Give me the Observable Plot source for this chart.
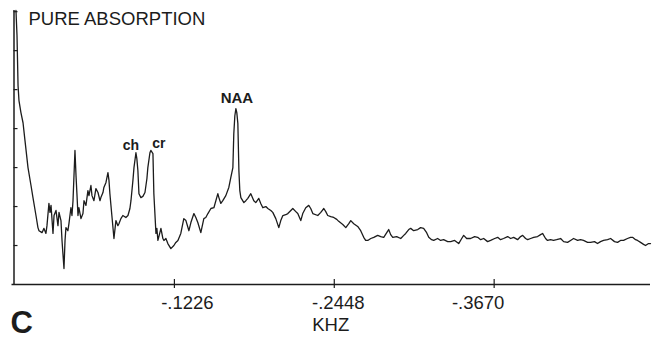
<!DOCTYPE html>
<html>
<head>
<meta charset="utf-8">
<script src="https://cdn.jsdelivr.net/npm/d3@7"></script>
<script src="https://cdn.jsdelivr.net/npm/@observablehq/plot@0.6"></script>
<style>
  html, body { margin: 0; padding: 0; background: #fff; }
  #chart { width: 662px; height: 339px; }
</style>
</head>
<body>
<div id="chart"></div>
<script>
// Spectrum: frequency (kHz) and amplitude (arbitrary units, one unit per y-axis tick)
const freqKHz = [
  -0.0015,-0.0023,-0.0027,-0.0031,-0.0038,-0.0053,-0.0069,-0.0084,-0.0107,-0.0130,
  -0.0145,-0.0168,-0.0183,-0.0191,-0.0214,-0.0229,-0.0244,-0.0252,-0.0267,-0.0275,
  -0.0283,-0.0298,-0.0306,-0.0321,-0.0336,-0.0344,-0.0359,-0.0367,-0.0374,-0.0382,
  -0.0390,-0.0397,-0.0412,-0.0420,-0.0435,-0.0443,-0.0451,-0.0466,-0.0474,-0.0481,
  -0.0489,-0.0496,-0.0512,-0.0527,-0.0535,-0.0550,-0.0565,-0.0573,-0.0588,-0.0596,
  -0.0611,-0.0626,-0.0642,-0.0657,-0.0664,-0.0680,-0.0687,-0.0703,-0.0718,-0.0726,
  -0.0733,-0.0748,-0.0764,-0.0779,-0.0794,-0.0802,-0.0817,-0.0832,-0.0855,-0.0871,
  -0.0886,-0.0894,-0.0909,-0.0917,-0.0932,-0.0939,-0.0947,-0.0955,-0.0970,-0.0985,
  -0.1001,-0.1016,-0.1023,-0.1039,-0.1046,-0.1062,-0.1069,-0.1085,-0.1092,-0.1100,
  -0.1115,-0.1123,-0.1138,-0.1146,-0.1161,-0.1176,-0.1199,-0.1222,-0.1237,-0.1253,
  -0.1275,-0.1298,-0.1314,-0.1337,-0.1352,-0.1375,-0.1390,-0.1405,-0.1428,-0.1451,
  -0.1466,-0.1482,-0.1505,-0.1528,-0.1558,-0.1566,-0.1581,-0.1596,-0.1619,-0.1642,
  -0.1657,-0.1673,-0.1680,-0.1688,-0.1696,-0.1703,-0.1711,-0.1719,-0.1726,-0.1734,
  -0.1757,-0.1772,-0.1787,-0.1810,-0.1833,-0.1848,-0.1871,-0.1886,-0.1902,-0.1925,
  -0.1940,-0.1963,-0.1978,-0.2001,-0.2024,-0.2039,-0.2055,-0.2077,-0.2093,-0.2116,
  -0.2131,-0.2154,-0.2169,-0.2192,-0.2207,-0.2230,-0.2253,-0.2268,-0.2284,-0.2322,
  -0.2345,-0.2368,-0.2383,-0.2398,-0.2421,-0.2444,-0.2467,-0.2482,-0.2513,-0.2536,
  -0.2559,-0.2574,-0.2597,-0.2627,-0.2650,-0.2673,-0.2688,-0.2704,-0.2727,-0.2750,
  -0.2780,-0.2803,-0.2826,-0.2849,-0.2864,-0.2879,-0.2895,-0.2925,-0.2956,-0.2979,
  -0.2994,-0.3017,-0.3032,-0.3055,-0.3086,-0.3108,-0.3131,-0.3154,-0.3170,-0.3192,
  -0.3208,-0.3238,-0.3261,-0.3284,-0.3315,-0.3338,-0.3368,-0.3399,-0.3422,-0.3437,
  -0.3460,-0.3490,-0.3521,-0.3544,-0.3567,-0.3590,-0.3620,-0.3643,-0.3674,-0.3697,
  -0.3719,-0.3742,-0.3773,-0.3796,-0.3819,-0.3849,-0.3872,-0.3888,-0.3910,-0.3926,
  -0.3949,-0.3972,-0.4002,-0.4025,-0.4040,-0.4063,-0.4078,-0.4101,-0.4124,-0.4147,
  -0.4178,-0.4201,-0.4231,-0.4254,-0.4277,-0.4308,-0.4330,-0.4353,-0.4384,-0.4407,
  -0.4437,-0.4460,-0.4483,-0.4506,-0.4537,-0.4560,-0.4590,-0.4613,-0.4636,-0.4659,
  -0.4689,-0.4712,-0.4728,-0.4751,-0.4766,-0.4789,-0.4812,-0.4827,-0.4850,-0.4865
];
const amplitude = [
  7.03,6.38,5.74,5.10,4.72,4.41,4.15,3.69,3.00,2.54,
  2.23,1.77,1.46,1.38,1.33,1.44,1.31,1.51,2.08,1.85,
  2.03,1.31,1.77,1.90,1.51,1.85,1.64,1.13,0.79,0.41,
  1.13,1.46,1.38,1.56,1.97,1.77,2.15,3.44,2.79,2.33,
  1.77,1.97,1.69,1.82,2.15,2.03,2.41,2.28,2.54,2.28,
  2.15,2.46,2.36,2.15,2.23,2.36,2.49,2.62,2.87,2.67,
  2.33,1.77,1.18,1.64,1.51,1.56,1.69,1.77,1.72,1.77,
  1.95,2.15,2.67,3.00,3.38,3.23,2.92,2.33,2.23,2.26,
  2.36,2.72,3.00,3.38,3.44,3.36,2.33,1.31,1.44,1.13,
  1.33,1.44,1.18,1.13,1.18,1.05,0.92,1.00,1.08,1.13,
  1.31,1.69,1.64,1.38,1.59,1.82,1.72,1.59,1.33,1.69,
  1.72,1.82,1.95,1.97,2.33,2.23,2.08,2.15,2.28,2.49,
  2.74,3.00,3.87,4.33,4.51,4.41,4.13,2.92,2.41,2.23,
  2.10,2.15,2.21,2.33,2.15,2.10,2.21,2.08,1.97,2.00,
  1.95,1.90,1.85,1.69,1.46,1.64,1.77,1.79,1.82,1.90,
  1.95,1.87,1.82,1.64,1.82,1.97,2.03,1.95,1.82,1.77,
  1.85,1.95,1.87,1.77,1.74,1.72,1.67,1.62,1.54,1.46,
  1.56,1.64,1.56,1.49,1.38,1.21,1.13,1.13,1.18,1.21,
  1.26,1.23,1.21,1.33,1.41,1.28,1.21,1.23,1.18,1.26,
  1.31,1.41,1.44,1.38,1.41,1.46,1.44,1.33,1.21,1.15,
  1.13,1.18,1.13,1.15,1.10,1.10,1.13,1.05,1.18,1.26,
  1.18,1.18,1.23,1.21,1.15,1.18,1.10,1.13,1.18,1.21,
  1.15,1.18,1.23,1.18,1.21,1.15,1.23,1.26,1.18,1.15,
  1.18,1.21,1.23,1.28,1.31,1.18,1.13,1.15,1.13,1.15,
  1.18,1.10,1.08,1.13,1.18,1.13,1.15,1.13,1.08,1.08,
  1.10,1.05,1.10,1.13,1.15,1.18,1.10,1.08,1.13,1.13,
  1.18,1.21,1.21,1.15,1.13,1.08,1.03,1.00,1.05,1.05
];
const yTicks = [1, 2, 3, 4, 5, 6, 7];
const xTicks = [-0.1226, -0.2448, -0.3670];
const xTickLabels = ["-.1226", "-.2448", "-.3670"];
const peakNames = ["ch", "cr", "NAA"];
const peakKHz = [-0.0932, -0.1046, -0.1696];
const peakAmp = [3.38, 3.44, 4.51];
const titleText = "PURE ABSORPTION";
const xLabel = "KHZ";
const panelLetter = "C";

const spectrum = freqKHz.map((f, i) => ({f, a: amplitude[i]}));
const peaks = peakNames.map((n, i) => ({n, f: peakKHz[i], a: peakAmp[i]}));

const ink = "#1c1c1c";
const font = "'Liberation Sans', Arial, Helvetica, sans-serif";
const tickLabelDx = [13, 4, -16];
const peakStyle = [
  {dx: -5, dy: -3, fontSize: 14},
  {dx: 8, dy: -2, fontSize: 14},
  {dx: 1, dy: -6, fontSize: 15}
];

const chart = Plot.plot({
  width: 662,
  height: 339,
  marginTop: 10,
  marginBottom: 55,
  marginLeft: 13.5,
  marginRight: 12,
  x: {domain: [0, -0.4865], axis: null},
  y: {domain: [0, 7.03], axis: null},
  style: {fontFamily: font, background: "#fff", color: ink, overflow: "visible"},
  marks: [
    Plot.ruleX([0], {stroke: ink, strokeWidth: 1.5}),
    Plot.ruleY([0], {stroke: ink, strokeWidth: 1.5, insetLeft: -2}),
    Plot.ruleY(yTicks, {x1: 0, x2: 0, insetRight: -4, stroke: ink, strokeWidth: 1.2}),
    Plot.ruleX(xTicks, {y1: 0, y2: 0, insetTop: -5, insetBottom: -4, stroke: ink, strokeWidth: 1.2}),
    Plot.line(spectrum, {x: "f", y: "a", stroke: ink, strokeWidth: 1.3, strokeLinejoin: "round"}),
    ...xTicks.map((t, i) => Plot.text([t], {
      x: d => d, y: 0, text: () => xTickLabels[i],
      dx: tickLabelDx[i], dy: 19, fontSize: 18.5, fill: ink, lineAnchor: "middle"
    })),
    ...peaks.map((p, i) => Plot.text([p], {
      x: "f", y: "a", text: "n",
      dx: peakStyle[i].dx, dy: peakStyle[i].dy, fontSize: peakStyle[i].fontSize,
      fontWeight: "bold", fill: ink, lineAnchor: "bottom"
    })),
    Plot.text([titleText], {
      text: d => d, frameAnchor: "top-left", textAnchor: "start", lineAnchor: "middle",
      dx: 14.5, dy: 8.5, fontSize: 18.5, fill: ink
    }),
    Plot.text([xLabel], {
      text: d => d, frameAnchor: "bottom", lineAnchor: "middle",
      dx: -1.5, dy: 41, fontSize: 18.5, fill: ink
    }),
    Plot.text([panelLetter], {
      text: d => d, frameAnchor: "bottom-left", textAnchor: "start", lineAnchor: "middle",
      dx: -3.5, dy: 39, fontSize: 31, fontWeight: "bold", fill: ink
    })
  ]
});
document.getElementById("chart").appendChild(chart);
</script>
</body>
</html>
